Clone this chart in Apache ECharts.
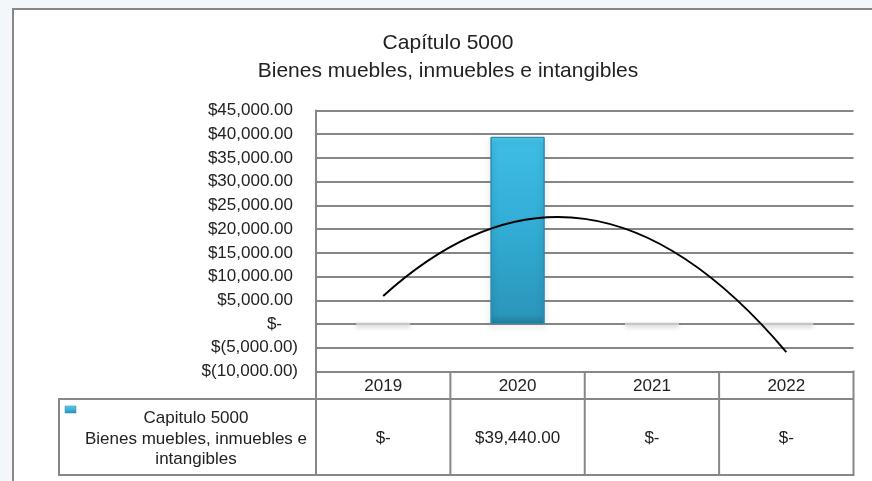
<!DOCTYPE html>
<html>
<head>
<meta charset="utf-8">
<script src="https://cdn.jsdelivr.net/npm/echarts@6/dist/echarts.min.js"></script>
<style>
  html, body { margin: 0; padding: 0; background: #f3f7fb; }
  #frame { position: absolute; left: 12px; top: 7.5px; width: 900px; height: 500px;
           border: 2px solid #878787; background: #ffffff; }
  #chart { position: absolute; left: 0; top: 0; width: 872px; height: 481px; }
</style>
</head>
<body>
<div id="frame"></div>
<div id="chart"></div>
<script>
// Years shown on the category axis and in the data table header
const years = ['2019', '2020', '2021', '2022'];
// Spending per year (pesos)
const amounts = [0, 39440, 0, 0];
// Polynomial (order 2) trend line values at each year
const trend = [5900, 21700, 17700, -5900];
// Value axis range and step
const yMin = -10000;
const yMax = 45000;
const yStep = 5000;

const titleLines = ['Capítulo 5000', 'Bienes muebles, inmuebles e intangibles'];
const seriesName = 'Capitulo 5000\nBienes muebles, inmuebles e\nintangibles';

const FONT = '"Liberation Sans", Arial, sans-serif';
const TEXT = '#222222';
const LINE = '#878787';

function groupDigits(n) {
  const fixed = Math.abs(n).toFixed(2);
  const parts = fixed.split('.');
  const intPart = parts[0].replace(/\B(?=(\d{3})+(?!\d))/g, ',');
  return intPart + '.' + parts[1];
}

// Accounting style: $1,234.00   $(1,234.00)   $-
function money(v) {
  if (v === 0) return '$-';
  return v < 0 ? '$(' + groupDigits(v) + ')' : '$' + groupDigits(v);
}

const barFill = new echarts.graphic.LinearGradient(0, 0, 0, 1, [
  { offset: 0, color: '#52cbee' },
  { offset: 0.035, color: '#3ebde4' },
  { offset: 0.5, color: '#32acd4' },
  { offset: 0.95, color: '#2b96bb' },
  { offset: 1, color: '#237b9a' }
]);

// Zero-height bars only leave their soft base shadow
const zeroStyle = {
  color: 'rgba(0,0,0,0)',
  borderColor: 'rgba(205,205,205,0.9)',
  borderWidth: 2.5,
  shadowColor: 'rgba(0,0,0,0.25)',
  shadowBlur: 4,
  shadowOffsetY: 2
};

// Quadratic trend curve: least-squares parabola through the trend points
// (in pixel space), drawn as one quadratic Bezier from first to last year.
function renderTrend(params, api) {
  if (params.dataIndex !== 0) return null;
  const pts = trend.map(function (v, i) { return api.coord([i, v]); });
  const n = pts.length;
  const mid = (n - 1) / 2;
  let stt = 0, sy = 0, sty = 0, sqy = 0, sqq = 0;
  const ts = pts.map(function (p, i) { return i - mid; });
  ts.forEach(function (t) { stt += t * t; });
  const qMean = stt / n;
  pts.forEach(function (p, i) {
    const t = ts[i];
    const q = t * t - qMean;
    sy += p[1]; sty += t * p[1]; sqy += q * p[1]; sqq += q * q;
  });
  const c0 = sy / n, c1 = sty / stt, c2 = sqy / sqq;
  const yAt = function (t) { return c0 + c1 * t + c2 * (t * t - qMean); };
  const t0 = ts[0], t1 = ts[n - 1];
  const x0 = pts[0][0], x1 = pts[n - 1][0];
  const y0 = yAt(t0), y1 = yAt(t1);
  const slope0 = c1 + 2 * c2 * t0;          // dy/dt at the start
  const tm = (t0 + t1) / 2;
  const cy = y0 + slope0 * (tm - t0);
  const cx = (x0 + x1) / 2;
  return {
    type: 'path',
    shape: { pathData: 'M' + x0 + ' ' + y0 + ' Q' + cx + ' ' + cy + ' ' + x1 + ' ' + y1 },
    style: { stroke: '#000000', lineWidth: 2, fill: 'none' }
  };
}

const chart = echarts.init(document.getElementById('chart'), null, { renderer: 'canvas' });

chart.setOption({
  animation: false,
  backgroundColor: 'transparent',
  title: {
    text: titleLines.join('\n'),
    left: 443,
    top: 24,
    textAlign: 'center',
    textStyle: {
      fontFamily: FONT, fontSize: 21, fontWeight: 'normal', color: TEXT, lineHeight: 28
    }
  },
  grid: {
    left: 316, right: 18.5, top: 110.5, bottom: 109.5,
    containLabel: false, outerBoundsMode: 'none'
  },
  xAxis: {
    type: 'category',
    data: years,
    axisLine: { lineStyle: { color: LINE, width: 2 } },
    axisTick: { show: false },
    axisLabel: { fontFamily: FONT, fontSize: 17, color: TEXT, margin: 6 },
    splitLine: { show: false }
  },
  yAxis: {
    type: 'value',
    min: yMin, max: yMax, interval: yStep,
    axisLine: { show: true, lineStyle: { color: LINE, width: 2 } },
    axisTick: { show: false },
    splitLine: { lineStyle: { color: LINE, width: 2 } },
    axisLabel: {
      margin: 18,
      formatter: function (v) {
        if (v === 0) return '{t|$-}{z| }';
        if (v < 0) return '{t|' + money(v) + '}';
        return '{t|' + money(v) + '}{p| }';
      },
      rich: {
        t: { fontFamily: FONT, fontSize: 17, color: TEXT },
        p: { width: 5, fontSize: 17 },
        z: { width: 16, fontSize: 17 }
      }
    }
  },
  series: [
    {
      name: seriesName,
      type: 'bar',
      barWidth: 54,
      z: 2,
      data: amounts.map(function (v) {
        return v === 0 ? { value: v, itemStyle: zeroStyle } : v;
      }),
      itemStyle: {
        color: barFill,
        borderColor: '#2a8db0',
        borderWidth: 1,
        shadowColor: 'rgba(0,0,0,0.28)',
        shadowBlur: 6,
        shadowOffsetY: 3
      }
    },
    {
      name: 'Polinómica',
      type: 'custom',
      z: 5,
      clip: false,
      data: trend.map(function (v, i) { return [i, v]; }),
      encode: { x: 0, y: 1 },
      renderItem: renderTrend
    }
  ]
});

// Data table under the plot, aligned with the category bands
(function buildTable() {
  const cx = years.map(function (y) { return chart.convertToPixel({ xAxisIndex: 0 }, y); });
  const band = cx[1] - cx[0];
  const left = cx[0] - band / 2;
  const right = cx[cx.length - 1] + band / 2;
  const top = chart.convertToPixel({ yAxisIndex: 0 }, yMin);
  const headBottom = top + 27.5;
  const bottom = top + 103.5;
  const keyLeft = 59;

  const els = [];
  function line(x1, y1, x2, y2) {
    els.push({
      type: 'line',
      shape: { x1: x1, y1: y1, x2: x2, y2: y2 },
      style: { stroke: LINE, lineWidth: 2 },
      z: 10
    });
  }
  line(keyLeft, headBottom, right, headBottom);
  line(keyLeft, bottom, right, bottom);
  line(keyLeft, headBottom - 1, keyLeft, bottom + 1);
  line(left, top, left, bottom + 1);
  line(right, top - 1, right, bottom + 1);
  for (let i = 1; i < years.length; i++) {
    const x = left + band * i;
    line(x, top, x, bottom);
  }

  const rowMid = (headBottom + bottom) / 2;
  amounts.forEach(function (v, i) {
    els.push({
      type: 'text',
      z: 11,
      style: {
        text: money(v), x: cx[i], y: rowMid + 1,
        align: 'center', verticalAlign: 'middle',
        fontFamily: FONT, fontSize: 17, fill: TEXT
      }
    });
  });

  // legend key
  els.push({
    type: 'rect',
    z: 11,
    shape: { x: 65, y: 406, width: 11, height: 7 },
    style: {
      fill: new echarts.graphic.LinearGradient(0, 0, 0, 1, [
        { offset: 0, color: '#55cdee' }, { offset: 1, color: '#2a93b8' }
      ]),
      stroke: '#2a8db0', lineWidth: 0.5
    }
  });
  els.push({
    type: 'text',
    z: 11,
    style: {
      text: seriesName, x: 196, y: rowMid + 2,
      align: 'center', verticalAlign: 'middle',
      fontFamily: FONT, fontSize: 17, lineHeight: 20.5, fill: TEXT
    }
  });

  chart.setOption({ graphic: { elements: els } });
})();
</script>
</body>
</html>
